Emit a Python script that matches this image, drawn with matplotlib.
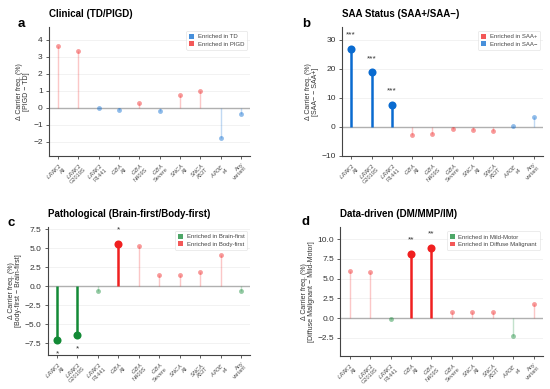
import matplotlib
matplotlib.use("Agg")
import matplotlib.pyplot as plt
from matplotlib.patches import Patch
import numpy as np

plt.rcParams['font.family'] = ['Liberation Sans', 'DejaVu Sans']

genes = ["LRRK2", "LRRK2", "LRRK2", "GBA", "GBA", "GBA", "SNCA", "SNCA", "APOE", "Any"]
variants = ["All", "G2019S", "R1441", "All", "N409S", "Severe", "All", "A53T", "ε4", "variant"]

vals_a = [3.65, 3.35, -0.03, -0.13, 0.25, -0.18, 0.75, 0.95, -1.8, -0.35]
sig_a = ["", "", "", "", "", "", "", "", "", ""]
vals_b = [26.8, 18.8, 7.5, -2.8, -2.3, -0.8, -1.2, -1.3, 0.5, 3.6]
sig_b = ["***", "***", "***", "", "", "", "", "", "", ""]
vals_c = [-7.1, -6.4, -0.6, 5.5, 5.3, 1.4, 1.5, 1.8, 4.1, -0.7]
sig_c = ["*", "*", "", "*", "", "", "", "", "", ""]
vals_d = [5.9, 5.8, -0.1, 8.1, 8.9, 0.7, 0.7, 0.8, -2.3, 1.8]
sig_d = ["", "", "", "**", "**", "", "", "", "", ""]

BLUE = "#0a6bd0"
RED = "#f02020"
GREEN = "#138a36"

W, H = 550.0, 389.0

panels = [
    dict(letter="a", title="Clinical (TD/PIGD)", vals=vals_a, sig=sig_a,
         pos_col=RED, neg_col=BLUE, ylabel="Δ Carrier freq. (%)\n[PIGD − TD]",
         ylim=(-2.85, 4.75), yticks=[-2, -1, 0, 1, 2, 3, 4],
         legend=[("Enriched in TD", BLUE), ("Enriched in PIGD", RED)],
         rect=[0.089, 0.599, 0.366, 0.332], fmt="{:.0f}", lpos=(18, 24)),
    dict(letter="b", title="SAA Status (SAA+/SAA−)", vals=vals_b, sig=sig_b,
         pos_col=BLUE, neg_col=RED, ylabel="Δ Carrier freq. (%)\n[SAA− − SAA+]",
         ylim=(-10, 34.5), yticks=[-10, 0, 10, 20, 30],
         legend=[("Enriched in SAA+", RED), ("Enriched in SAA−", BLUE)],
         rect=[0.622, 0.599, 0.365, 0.332], fmt="{:.0f}", lpos=(302, 24)),
    dict(letter="c", title="Pathological (Brain-first/Body-first)", vals=vals_c, sig=sig_c,
         pos_col=RED, neg_col=GREEN, ylabel="Δ Carrier freq. (%)\n[Body-first − Brain-first]",
         ylim=(-9.1, 7.8), yticks=[-7.5, -5.0, -2.5, 0.0, 2.5, 5.0, 7.5],
         legend=[("Enriched in Brain-first", GREEN), ("Enriched in Body-first", RED)],
         rect=[0.087, 0.087, 0.368, 0.330], fmt="{:.1f}", lpos=(8, 223)),
    dict(letter="d", title="Data-driven (DM/MMP/IM)", vals=vals_d, sig=sig_d,
         pos_col=RED, neg_col=GREEN, ylabel="Δ Carrier freq. (%)\n[Diffuse Malignant − Mild-Motor]",
         ylim=(-4.8, 11.5), yticks=[-2.5, 0.0, 2.5, 5.0, 7.5, 10.0],
         legend=[("Enriched in Mild-Motor", GREEN), ("Enriched in Diffuse Malignant", RED)],
         rect=[0.619, 0.085, 0.368, 0.331], fmt="{:.1f}", lpos=(302, 222)),
]

fig = plt.figure(figsize=(5.5, 3.89), dpi=100)

for p in panels:
    ax = fig.add_axes(p["rect"])
    x = np.arange(len(p["vals"]))
    ylo, yhi = p["ylim"]
    ax.axhline(0, color="#b0b0b0", lw=1.0, zorder=1)
    for xi, v, s in zip(x, p["vals"], p["sig"]):
        col = p["pos_col"] if v >= 0 else p["neg_col"]
        if s:
            ax.plot([xi, xi], [0, v], color=col, lw=1.8, zorder=3, solid_capstyle="butt")
            ax.plot(xi, v, "o", color=col, ms=5.8, zorder=4, mec="none")
            if v >= 0:
                ax.annotate(s, (xi, v), xytext=(0, 7.5), textcoords="offset points",
                            ha="center", va="bottom", fontsize=6, color="#333333",
                            annotation_clip=False)
            else:
                ax.annotate(s, (xi, v), xytext=(0, -7.5), textcoords="offset points",
                            ha="center", va="top", fontsize=6, color="#333333",
                            annotation_clip=False)
        else:
            ax.plot([xi, xi], [0, v], color=col, lw=1.0, alpha=0.25, zorder=2, solid_capstyle="butt")
            ax.plot(xi, v, "o", color=col, ms=3.5, alpha=0.45, zorder=3, mec="none")
    ax.set_xlim(-0.45, len(x) - 0.55)
    ax.set_ylim(ylo, yhi)
    ax.set_yticks(p["yticks"])
    ax.set_yticklabels([p["fmt"].format(t).replace("-", "−") for t in p["yticks"]])
    ax.yaxis.grid(True, color="#f0f0f0", lw=0.6, zorder=0)
    ax.set_axisbelow(True)
    ax.set_xticks(x)
    labels = []
    for g, vname in zip(genes, variants):
        if g == "Any":
            labels.append(f"{g}\n{vname}")
        else:
            labels.append(f"$\\it{{{g}}}$\n{vname}")
    ax.set_xticklabels(labels, rotation=45, ha="right", rotation_mode="anchor",
                       fontsize=4.1, color="#555555", linespacing=0.9)
    ax.tick_params(axis="y", labelsize=6, length=2.5, width=0.6, color="#444444", labelcolor="#333333", pad=2)
    ax.tick_params(axis="x", length=2.5, width=0.6, color="#444444", pad=1.5)
    for sp in ["top", "right"]:
        ax.spines[sp].set_visible(False)
    for sp in ["left", "bottom"]:
        ax.spines[sp].set_color("#444444")
        ax.spines[sp].set_linewidth(0.8)
    ax.set_ylabel(p["ylabel"], fontsize=5, color="#333333", labelpad=2, linespacing=1.0)
    handles = [Patch(facecolor=c, edgecolor="none", alpha=0.75, label=l) for l, c in p["legend"]]
    leg = ax.legend(handles=handles, loc="upper right", fontsize=4.3, frameon=True,
                    handlelength=0.8, handleheight=0.8, handletextpad=0.6,
                    borderpad=0.5, labelspacing=0.3, bbox_to_anchor=(1.0, 0.99))
    leg.get_frame().set_edgecolor("#dddddd")
    leg.get_frame().set_linewidth(0.5)
    for t in leg.get_texts():
        t.set_color("#444444")
    ax.set_title(p["title"], fontsize=7, fontweight="bold", loc="left", pad=7, x=0.0)
    lx, ly = p["lpos"]
    fig.text(lx / W, 1 - ly / H, p["letter"], fontsize=9.5, fontweight="bold",
             ha="left", va="center")

fig.savefig("out.png", dpi=100, facecolor="white")
